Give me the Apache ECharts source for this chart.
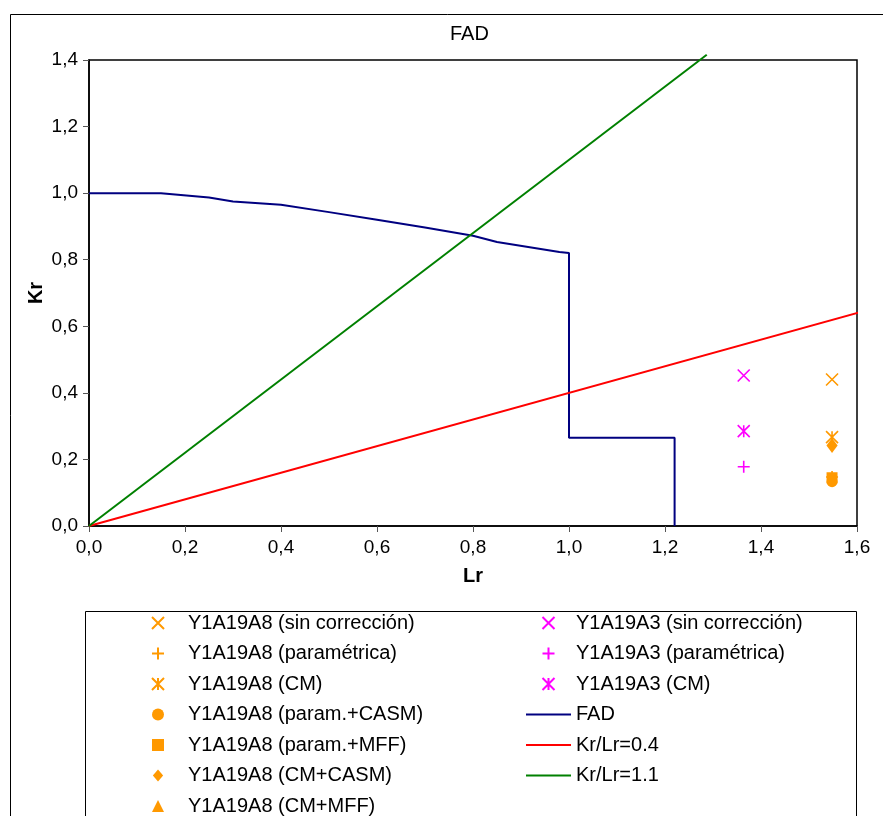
<!DOCTYPE html>
<html><head><meta charset="utf-8">
<script src="https://cdn.jsdelivr.net/npm/echarts@6/dist/echarts.min.js"></script>
<style>html,body{margin:0;padding:0;background:#fff}#c{width:883px;height:816px}</style>
</head><body><div id="c"></div>
<script>
// ---- data ----
const xTickValues = [0, 0.2, 0.4, 0.6, 0.8, 1.0, 1.2, 1.4, 1.6];
const yTickValues = [0, 0.2, 0.4, 0.6, 0.8, 1.0, 1.2, 1.4];

const lrA8 = [1.548];
const krA8SinCorr = [0.440];
const krA8Param = [0.147];
const krA8CM = [0.267];
const krA8ParamCASM = [0.133];
const krA8ParamMFF = [0.145];
const krA8CMCASM = [0.242];
const krA8CMMFF = [];

const lrA3 = [1.364];
const krA3SinCorr = [0.452];
const krA3Param = [0.178];
const krA3CM = [0.285];

const fadLr = [0, 0.15, 0.25, 0.30, 0.40, 0.50, 0.60, 0.70, 0.80, 0.85, 0.98, 1.00, 1.00, 1.22, 1.22];
const fadKr = [1.000, 1.000, 0.987, 0.975, 0.965, 0.943, 0.920, 0.897, 0.872, 0.853, 0.823, 0.820, 0.265, 0.265, 0.000];

const line04Lr = [0, 1.615];
const line04Kr = [0, 0.646];
const line11Lr = [0, 1.287];
const line11Kr = [0, 1.416];

const namesA8 = ['Y1A19A8 (sin corrección)', 'Y1A19A8 (paramétrica)', 'Y1A19A8 (CM)', 'Y1A19A8 (param.+CASM)', 'Y1A19A8 (param.+MFF)', 'Y1A19A8 (CM+CASM)', 'Y1A19A8 (CM+MFF)'];
const namesA3 = ['Y1A19A3 (sin corrección)', 'Y1A19A3 (paramétrica)', 'Y1A19A3 (CM)'];
const namesLines = ['FAD', 'Kr/Lr=0.4', 'Kr/Lr=1.1'];

// ---- helpers ----
const pair = (xs, ys) => ys.map((y, i) => [xs.length === 1 ? xs[0] : xs[i], y]);
const FONT = "'Liberation Sans', Arial, sans-serif";
const ORANGE = '#FF9900', MAGENTA = '#FF00FF';
const P_X = 'path://M0,0L10,10M10,0L0,10';
const P_PLUS = 'path://M5,0L5,10M0,5L10,5';
const P_AST = 'path://M0,0L10,10M10,0L0,10M5,0L5,10';
const P_SQ = 'path://M0,0L10,0L10,10L0,10Z';
const P_DIA = 'path://M6,0L12,7L6,14L0,7Z';
const P_TRI = 'path://M5,0L10,10L0,10Z';

function strokeScatter(name, xs, ys, path, color) {
  return { type: 'scatter', name, data: pair(xs, ys), symbol: path, symbolSize: 12,
    symbolKeepAspect: true,
    itemStyle: { color: 'rgba(0,0,0,0)', borderColor: color, borderWidth: 1.6, opacity: 1 } };
}
function fillScatter(name, xs, ys, sym, size, color) {
  return { type: 'scatter', name, data: pair(xs, ys), symbol: sym, symbolSize: size,
    symbolKeepAspect: true,
    itemStyle: { color: color, opacity: 1 } };
}
function lineSeries(name, xs, ys, color) {
  return { type: 'line', name, data: pair(xs, ys), symbol: 'none', showSymbol: false, clip: false,
    lineStyle: { color, width: 2 }, itemStyle: { color } };
}

const fmt = v => v.toFixed(1).replace('.', ',');
const legendText = { fontFamily: FONT, fontSize: 20, color: '#000', lineHeight: 20 };

const option = {
  animation: false,
  backgroundColor: '#fff',
  title: { text: 'FAD', left: 445, top: 19,
    textStyle: { fontFamily: FONT, fontSize: 20, fontWeight: 'normal', color: '#000' } },
  grid: { left: 89, top: 60, right: 26, bottom: 290, show: true, borderColor: '#000', borderWidth: 1.5, backgroundColor: '#fff' },
  xAxis: { type: 'value', min: 0, max: 1.6, interval: 0.2,
    name: 'Lr', nameLocation: 'middle', nameGap: 40,
    nameTextStyle: { fontFamily: FONT, fontSize: 20, fontWeight: 'bold', color: '#000' },
    axisLine: { show: true, lineStyle: { color: '#000', width: 1.5 } },
    axisTick: { show: true, length: 6, lineStyle: { color: '#555', width: 1 } },
    axisLabel: { margin: 12, fontFamily: FONT, fontSize: 19, color: '#000', formatter: fmt },
    splitLine: { show: false } },
  yAxis: { type: 'value', min: 0, max: 1.4, interval: 0.2,
    name: 'Kr', nameLocation: 'middle', nameGap: 43, nameRotate: 90, nameMoveOverlap: false,
    nameTextStyle: { fontFamily: FONT, fontSize: 20, fontWeight: 'bold', color: '#000' },
    axisLine: { show: true, lineStyle: { color: '#000', width: 1.5 } },
    axisTick: { show: true, length: 6, lineStyle: { color: '#555', width: 1 } },
    axisLabel: { margin: 11, fontFamily: FONT, fontSize: 19, color: '#000', formatter: fmt },
    splitLine: { show: false } },
  legend: [
    { data: namesA8, orient: 'vertical', left: 151, top: 613, padding: 0,
      itemWidth: 50, itemHeight: 12, itemGap: 10.5, symbolKeepAspect: true, textStyle: legendText },
    { data: namesA3.concat(namesLines.map(n => ({ name: n, itemStyle: { color: 'rgba(0,0,0,0)', borderWidth: 0 } }))),
      orient: 'vertical', left: 525, top: 613, padding: 0,
      itemWidth: 45, itemHeight: 12, itemGap: 10.5, symbolKeepAspect: true, textStyle: legendText }
  ],
  graphic: [
    { type: 'rect', left: 8, top: 12, shape: { width: 900, height: 900 }, silent: true, z: -10,
      style: { fill: 'none', stroke: '#000', lineWidth: 1 } },
    { type: 'rect', left: 83, top: 609, shape: { width: 771, height: 300 }, silent: true, z: -10,
      style: { fill: 'none', stroke: '#000', lineWidth: 1 } }
  ],
  series: [
    lineSeries(namesLines[0], fadLr, fadKr, '#000080'),
    lineSeries(namesLines[1], line04Lr, line04Kr, '#FF0000'),
    lineSeries(namesLines[2], line11Lr, line11Kr, '#008000'),
    strokeScatter(namesA8[0], lrA8, krA8SinCorr, P_X, ORANGE),
    strokeScatter(namesA8[1], lrA8, krA8Param, P_PLUS, ORANGE),
    strokeScatter(namesA8[2], lrA8, krA8CM, P_AST, ORANGE),
    fillScatter(namesA8[3], lrA8, krA8ParamCASM, 'circle', 11, ORANGE),
    fillScatter(namesA8[4], lrA8, krA8ParamMFF, P_SQ, 11, ORANGE),
    fillScatter(namesA8[5], lrA8, krA8CMCASM, P_DIA, [13, 15], ORANGE),
    fillScatter(namesA8[6], lrA8, krA8CMMFF, P_TRI, [12, 12], ORANGE),
    strokeScatter(namesA3[0], lrA3, krA3SinCorr, P_X, MAGENTA),
    strokeScatter(namesA3[1], lrA3, krA3Param, P_PLUS, MAGENTA),
    strokeScatter(namesA3[2], lrA3, krA3CM, P_AST, MAGENTA)
  ]
};
const chart = echarts.init(document.getElementById('c'), null, { renderer: 'canvas' });
chart.setOption(option);
</script></body></html>
